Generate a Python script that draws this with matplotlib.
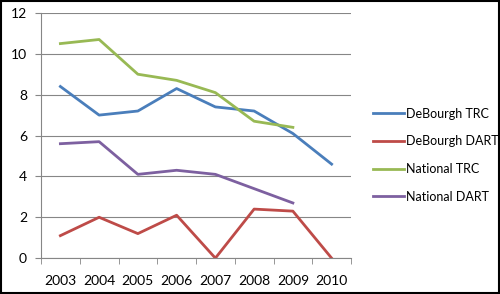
import numpy as np
import matplotlib.pyplot as plt
from matplotlib.patches import Rectangle

# Data
years = ["2003", "2004", "2005", "2006", "2007", "2008", "2009", "2010"]
debourgh_trc = [8.4, 7.0, 7.2, 8.3, 7.4, 7.2, 6.1, 4.6]
debourgh_dart = [1.1, 2.0, 1.2, 2.1, 0.0, 2.4, 2.3, 0.0]
national_trc = [10.5, 10.7, 9.0, 8.7, 8.1, 6.7, 6.4]
national_dart = [5.6, 5.7, 4.1, 4.3, 4.1, 3.4, 2.7]

plt.rcParams["font.family"] = ["Lato", "DejaVu Sans"]

fig = plt.figure(figsize=(5, 2.94), dpi=100)
ax = fig.add_axes([0.082, 0.122, 0.62, 0.834])

x = np.arange(len(years))
lw = 2.0
ax.plot(x, debourgh_trc, color="#4A7EBB", lw=lw, label="DeBourgh TRC")
ax.plot(x, debourgh_dart, color="#BE4B48", lw=lw, label="DeBourgh DART")
ax.plot(x[:len(national_trc)], national_trc, color="#98B954", lw=lw, label="National TRC")
ax.plot(x[:len(national_dart)], national_dart, color="#7D60A0", lw=lw, label="National DART")

ax.set_xlim(-0.5, len(years) - 0.5)
ax.set_ylim(0, 12)
ax.set_yticks(range(0, 13, 2))
ax.set_xticks(x)
ax.set_xticklabels(years)
ax.set_xticks(np.arange(-0.5, len(years)), minor=True)
ax.tick_params(axis="x", which="major", length=0, pad=12, labelsize=10)
ax.tick_params(axis="x", which="minor", length=4, color="#868686", direction="out")
ax.tick_params(axis="y", length=4, color="#868686", labelsize=10, pad=6)

ax.grid(axis="y", color="#868686", lw=0.8)
ax.set_axisbelow(True)
for side in ["top", "right"]:
    ax.spines[side].set_visible(False)
for side in ["left", "bottom"]:
    ax.spines[side].set_color("#868686")
    ax.spines[side].set_linewidth(0.8)

ax.legend(loc="center left", bbox_to_anchor=(1.035, 0.42), frameon=False,
          fontsize=9, handlelength=2.5, handletextpad=0.15, labelspacing=1.25)

# black border around the figure
fig.patches.append(Rectangle((0.002, 0.003), 0.996, 0.994, transform=fig.transFigure,
                             fill=False, edgecolor="black", lw=1.5))

fig.savefig("out.png", dpi=100)
